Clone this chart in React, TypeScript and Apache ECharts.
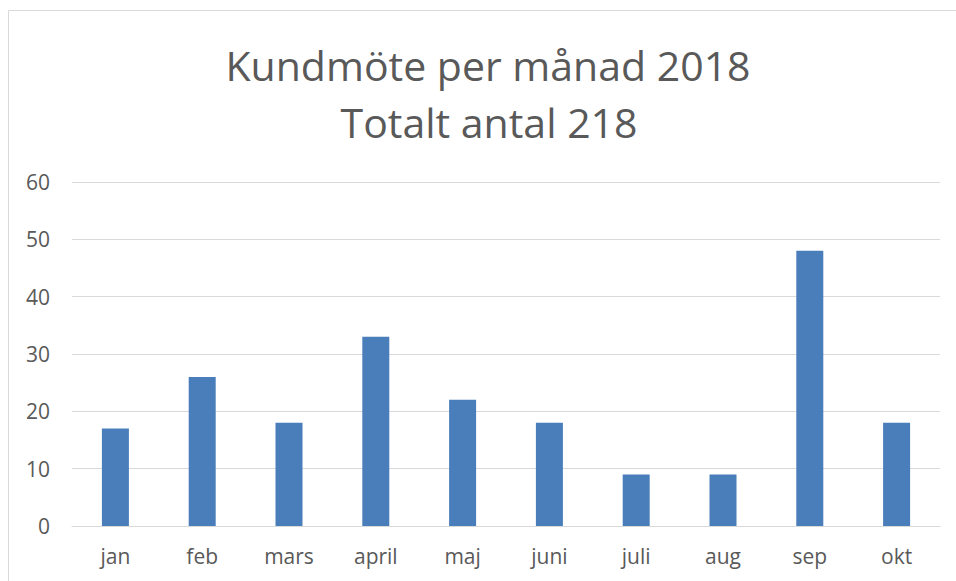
import React, { useEffect, useRef } from "react";
import * as echarts from "echarts";

const titleLines = ["Kundmöte per månad 2018", "Totalt antal 218"];
const months = ["jan", "feb", "mars", "april", "maj", "juni", "juli", "aug", "sep", "okt"];
const meetings = [17, 26, 18, 33, 22, 18, 9, 9, 48, 18];
const yTicks = { min: 0, max: 60, interval: 10 };

const FONT = "'Open Sans', 'Noto Sans', sans-serif";
const TEXT = "#595959";

export default function App() {
  const ref = useRef<HTMLDivElement>(null);
  useEffect(() => {
    if (!ref.current) return;
    const chart = echarts.init(ref.current, null, { renderer: "svg" });
    chart.setOption({
      animation: false,
      backgroundColor: "#ffffff",
      graphic: [
        {
          type: "rect",
          shape: { x: 8.5, y: 10.5, width: 1000, height: 1000 },
          style: { fill: "none", stroke: "#d9d9d9", lineWidth: 1 },
          silent: true,
        },
        {
          type: "text",
          x: 488,
          y: 65,
          style: {
            text: titleLines[0],
            font: `41px ${FONT}`,
            fill: TEXT,
            textAlign: "center",
            textVerticalAlign: "middle",
          },
        },
        {
          type: "text",
          x: 489,
          y: 122,
          style: {
            text: titleLines[1],
            font: `41px ${FONT}`,
            fill: TEXT,
            textAlign: "center",
            textVerticalAlign: "middle",
          },
        },
      ],
      grid: { left: 72, right: 16, top: 182, bottom: 55, containLabel: false },
      xAxis: {
        type: "category",
        data: months,
        axisLine: { show: true, lineStyle: { color: "#d9d9d9", width: 1 } },
        axisTick: { show: false },
        axisLabel: { color: TEXT, fontFamily: FONT, fontSize: 21, margin: 19 },
      },
      yAxis: {
        type: "value",
        min: yTicks.min,
        max: yTicks.max,
        interval: yTicks.interval,
        axisLine: { show: false },
        axisTick: { show: false },
        splitLine: { lineStyle: { color: "#d9d9d9", width: 1 } },
        axisLabel: { color: TEXT, fontFamily: FONT, fontSize: 21, margin: 22 },
      },
      series: [
        {
          type: "bar",
          data: meetings,
          barWidth: 27,
          itemStyle: { color: "#4A7EBB" },
        },
      ],
    });
    return () => chart.dispose();
  }, []);
  return (
    <div
      ref={ref}
      style={{ position: "absolute", left: 0, top: 0, width: 956, height: 581 }}
    />
  );
}
